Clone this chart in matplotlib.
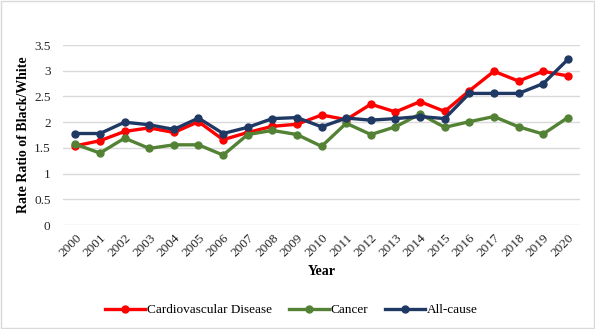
import matplotlib.pyplot as plt

years = [str(y) for y in range(2000, 2021)]
cvd = [1.54, 1.64, 1.82, 1.89, 1.80, 2.01, 1.66, 1.80, 1.92, 1.96, 2.14,
       2.05, 2.35, 2.20, 2.40, 2.21, 2.61, 2.99, 2.80, 2.99, 2.90]
cancer = [1.57, 1.40, 1.69, 1.49, 1.56, 1.56, 1.36, 1.76, 1.84, 1.76, 1.53,
          1.98, 1.76, 1.91, 2.16, 1.90, 2.01, 2.11, 1.91, 1.77, 2.09]
all_cause = [1.78, 1.78, 2.00, 1.95, 1.86, 2.08, 1.78, 1.90, 2.07, 2.09, 1.91,
             2.08, 2.04, 2.07, 2.11, 2.07, 2.56, 2.56, 2.56, 2.75, 3.22]
yticks = [0, 0.5, 1, 1.5, 2, 2.5, 3, 3.5]
ytick_labels = ["0", "0.5", "1", "1.5", "2", "2.5", "3", "3.5"]

plt.rcParams["font.family"] = ["Liberation Serif", "DejaVu Serif"]

fig = plt.figure(figsize=(5.95, 3.29), dpi=100)
ax = fig.add_axes([0.106, 0.316, 0.869, 0.547])

x = list(range(len(years)))
ax.plot(x, cvd, color="#FF0000", lw=2.4, marker="o", ms=5, label="Cardiovascular Disease")
ax.plot(x, cancer, color="#548235", lw=2.4, marker="o", ms=5, label="Cancer")
ax.plot(x, all_cause, color="#1F3864", lw=2.4, marker="o", ms=5, label="All-cause")

ax.set_xlim(-0.5, len(years) - 0.5)
ax.set_ylim(0, 3.5)
ax.set_yticks(yticks)
ax.set_yticklabels(ytick_labels)
ax.set_xticks(x)
ax.set_xticklabels(years, rotation=45, ha="right", rotation_mode="anchor")
ax.tick_params(length=0, labelsize=9.5, colors="#262626")
ax.tick_params(axis="y", pad=9)
ax.tick_params(axis="x", pad=5)
ax.grid(axis="y", color="#D9D9D9", lw=1)
ax.set_axisbelow(True)
for s in ax.spines.values():
    s.set_visible(False)

ax.set_xlabel("Year", fontsize=10, fontweight="bold", labelpad=4)
ax.set_ylabel("Rate Ratio of Black/White", fontsize=10, fontweight="bold", labelpad=3)

fig.legend(loc="center", bbox_to_anchor=(0.49, 0.057), ncol=3, frameon=False,
           prop={"family": "Liberation Serif", "size": 9.5},
           handlelength=3.0, columnspacing=1.3, handletextpad=0.15)

fig.patches.append(plt.Rectangle((0.001, 0.002), 0.997, 0.995, transform=fig.transFigure,
                                 fill=False, edgecolor="#D9D9D9", lw=1))

plt.savefig("out.png", dpi=100)
plt.close()
